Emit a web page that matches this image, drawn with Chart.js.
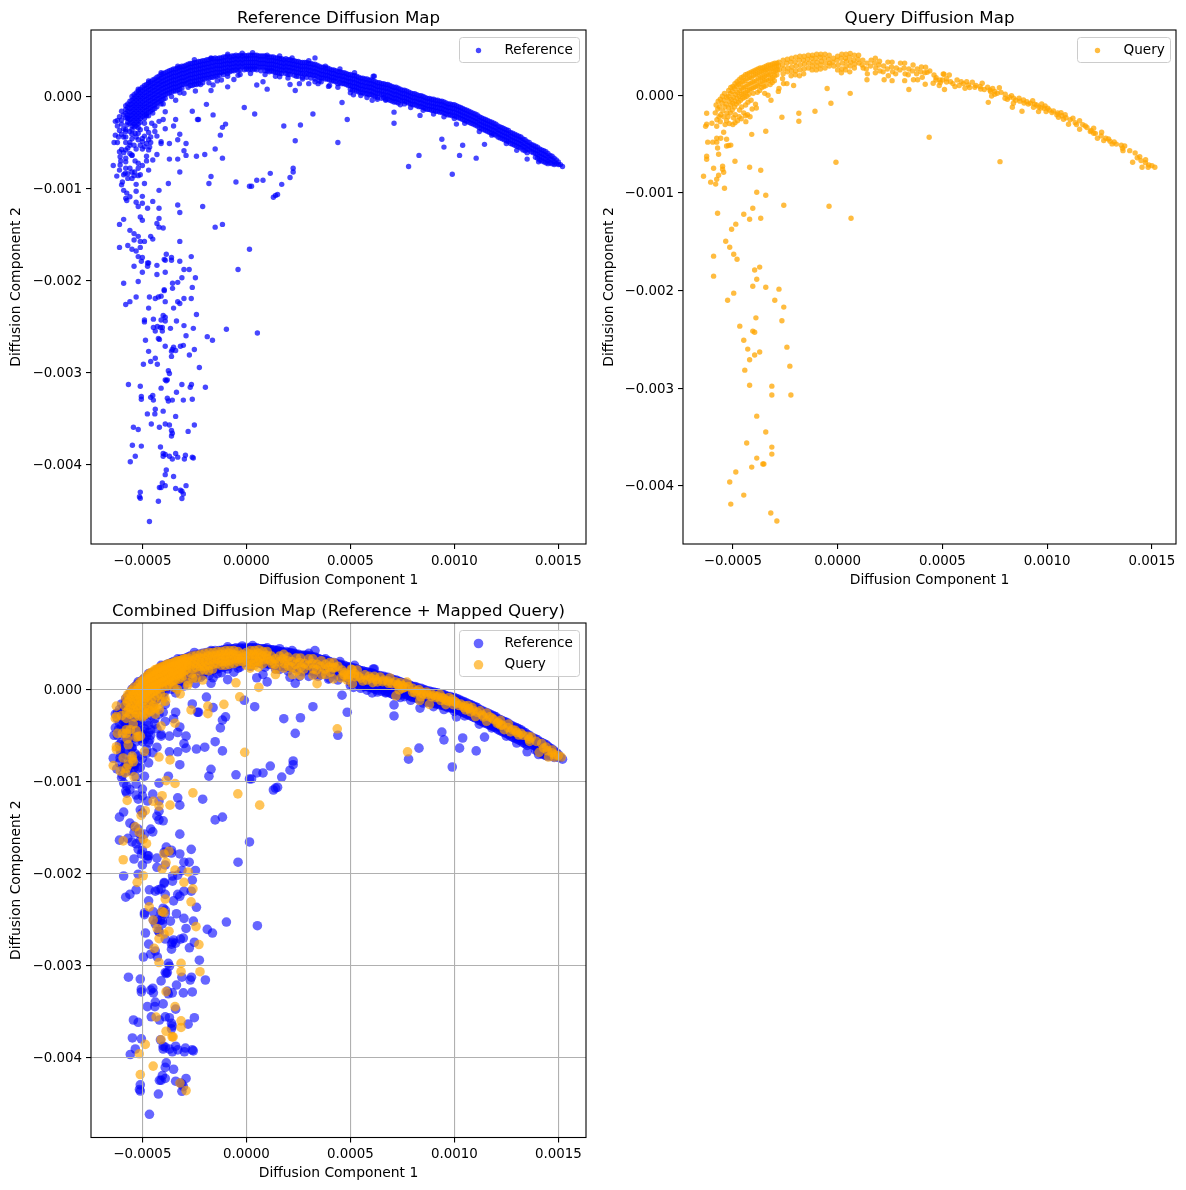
<!DOCTYPE html>
<html>
<head>
<meta charset="utf-8">
<title>Diffusion maps</title>
<script src="https://cdn.jsdelivr.net/npm/chart.js@4/dist/chart.umd.min.js"></script>
<style>
    html, body { margin: 0; padding: 0; background: #fff; }
    body { position: relative; width: 1186px; height: 1190px; overflow: hidden; }
    canvas { position: absolute; }
</style>
</head>
<body>
<canvas id="panelRef" width="593" height="592" style="left:0;top:0"></canvas>
<canvas id="panelQuery" width="593" height="592" style="left:593px;top:0"></canvas>
<canvas id="panelBoth" width="593" height="598" style="left:0;top:592px"></canvas>
<script>
// all coordinates below are in units of 1e-5
const unit = 1e-5;

const xTickValues = [-0.0005, 0, 0.0005, 0.001, 0.0015];
const xTickLabels = ['\u22120.0005', '0.0000', '0.0005', '0.0010', '0.0015'];
const yTickValues = [-0.004, -0.003, -0.002, -0.001, 0];
const yTickLabels = ['\u22120.004', '\u22120.003', '\u22120.002', '\u22120.001', '0.000'];

// dense arc of the reference cells: [x, [y, y, ...]]
const refArc = [
    [-58,[-10,-14,-18,-23]],[-56,[-5,-9,-13,-17,-21,-25,-29]],[-54,[2,-2,-6,-10,-14,-18,-22,-26,-30]],
    [-52,[6,2,-2,-6,-10,-14,-18,-22,-26,-30]],[-50,[10,6,2,-2,-6,-10,-14,-18,-22]],[-48,[13,9,5,1,-3,-7,-11,-15,-19]],
    [-46,[16,12,8,4,0,-4,-8,-12,-16]],[-44,[19,15,11,7,3,-1,-5,-9]],[-42,[22,18,14,10,6,2,-2,-6]],
    [-40,[25,21,17,13,9,5,1,-3]],[-38,[27,23,19,15,11,7,3]],[-36,[29,25,21,17,13,9,5]],
    [-34,[30,26,22,18,14,10,6]],[-32,[32,28,24,20,16,12,8]],[-30,[33,29,25,21,17,13]],
    [-28,[35,31,27,23,19,15]],[-26,[36,32,28,24,20,16,12]],[-24,[37,33,29,25,21,17,13]],
    [-22,[38,34,30,26,22,18]],[-20,[39,35,31,27,23,19]],[-18,[40,36,32,28,24,20]],
    [-16,[41,37,33,29,25,21]],[-14,[41,38,34,30,26,22]],[-12,[42,38,34,30,26]],
    [-10,[43,39,35,31,27]],[-8,[43,39,35,31,27]],[-6,[44,40,36,32,28]],
    [-4,[44,40,36,32,28]],[-2,[44,40,36,32]],[0,[44,41,37,33,30]],
    [2,[45,41,37,33,30]],[4,[45,41,37,33,30]],[6,[44,40,36,32]],
    [8,[44,40,36,32]],[10,[43,39,35,31,28]],[12,[43,39,35,31,28]],
    [14,[42,38,34,30,26]],[16,[41,37,33,29,25]],[18,[40,36,32,28]],
    [20,[40,36,32,28,24]],[22,[39,35,31,27]],[24,[38,34,30,26,22]],
    [26,[37,33,29,25]],[28,[37,33,29,24]],[30,[36,32,28,24]],
    [32,[35,31,27,23]],[34,[34,30,26,22]],[36,[32,28,24,20]],
    [38,[31,27,23,19]],[40,[30,26,22,18]],[42,[29,25,21,17]],
    [44,[27,23,19,14]],[46,[26,22,18,14]],[48,[25,21,17,13]],
    [50,[24,20,16,12,8]],[52,[23,19,15,11,7]],[54,[21,17,13,9,5]],
    [56,[20,16,12,8,4]],[58,[19,15,11,7,3]],[60,[18,14,10,6,2]],
    [62,[16,12,8,4,0]],[64,[15,11,7,3]],[66,[14,10,6,2,-1]],
    [68,[13,9,5,1,-3]],[70,[11,7,3,-1,-5]],[72,[10,6,2,-2,-6]],
    [74,[8,4,0,-4]],[76,[7,3,-1,-5,-8]],[78,[5,1,-3,-7]],
    [80,[3,-1,-5,-9]],[82,[2,-2,-6,-10]],[84,[1,-3,-7,-11]],
    [86,[-1,-5,-9,-13]],[88,[-2,-6,-10,-14]],[90,[-3,-7,-11,-15]],
    [92,[-4,-8,-12,-16]],[94,[-5,-9,-13,-17]],[96,[-7,-11,-15,-19]],
    [98,[-8,-12,-16,-20]],[100,[-9,-13,-17,-21,-24]],[102,[-11,-15,-19,-23]],
    [104,[-13,-17,-21,-25]],[106,[-15,-19,-23,-27]],[108,[-17,-21,-25,-29]],
    [110,[-19,-23,-27,-31]],[112,[-22,-26,-30,-34]],[114,[-24,-28,-32,-36]],
    [116,[-26,-30,-34,-38]],[118,[-28,-32,-36,-40]],[120,[-30,-34,-38,-42]],
    [122,[-33,-37,-41,-45]],[124,[-35,-39,-43,-47]],[126,[-37,-41,-45,-49]],
    [128,[-40,-44,-48,-52]],[130,[-42,-46,-50,-54]],[132,[-44,-48,-52,-56]],
    [134,[-47,-51,-55,-59]],[136,[-50,-54,-58]],[138,[-53,-57,-61]],
    [140,[-55,-59,-63,-67]],[142,[-58,-62,-66,-70]],[144,[-60,-64,-68,-72]],
    [146,[-64,-68,-72]],[148,[-67,-71,-74]],[150,[-71,-74]],[152,[-76]]
];

// same arc, the cells lying between those columns
const refArcBetween = [
    [-57,[-8,-12,-16,-20,-24,-28]],[-55,[0,-4,-8,-12,-16,-20,-24,-28,-32]],[-53,[4,0,-4,-8,-12,-16,-20,-24,-28,-32]],
    [-51,[8,4,0,-4,-8,-12,-16,-20,-24,-28]],[-49,[12,8,4,0,-4,-8,-12,-16,-20,-24]],[-47,[15,11,7,3,-1,-5,-9,-13,-17,-21]],
    [-45,[18,14,10,6,2,-2,-6,-10,-14,-18]],[-43,[21,17,13,9,5,1,-3,-7,-11]],[-41,[24,20,16,12,8,4,0,-4,-8]],
    [-39,[26,22,18,14,10,6,2,-2]],[-37,[28,24,20,16,12,8,4]],[-35,[30,26,22,18,14,10,6]],
    [-33,[31,27,23,19,15,11,7]],[-31,[33,29,25,21,17,13,9]],[-29,[34,30,26,22,18,14]],
    [-27,[36,32,28,24,20,16,12]],[-25,[37,33,29,25,21,17,13]],[-23,[38,34,30,26,22,18,14]],
    [-21,[39,35,31,27,23,19,15]],[-19,[40,36,32,28,24,20]],[-17,[41,37,33,29,25,21]],
    [-15,[42,38,34,30,26,22]],[-13,[42,38,34,30,26,23]],[-11,[43,39,35,31,27,24]],
    [-9,[44,40,36,32,28,25]],[-7,[44,40,36,32,28]],[-5,[45,41,37,33,29]],
    [-3,[45,41,37,33,29]],[-1,[45,41,37,33,29]],[1,[45,41,37,33,29]],
    [3,[45,41,37,33,29]],[5,[45,41,37,33,29]],[7,[44,40,36,32,28]],
    [9,[44,40,36,32,28]],[11,[43,39,35,31,27]],[13,[43,39,35,31,27]],
    [15,[42,38,34,30,26]],[17,[41,37,33,29,25]],[19,[41,37,33,29,25]],
    [21,[40,36,32,28,24]],[23,[39,35,31,27,23]],[25,[38,34,30,26,22]],
    [27,[37,33,29,25,21]],[29,[37,33,29,25,21]],[31,[36,32,28,24,20]],
    [33,[35,31,27,23,19]],[35,[33,29,25,21,17]],[37,[32,28,24,20]],
    [39,[31,27,23,19]],[41,[29,25,21,17]],[43,[28,24,20,16]],
    [45,[27,23,19,15]],[47,[26,22,18,14]],[49,[24,20,16,12]],
    [51,[23,19,15,11,7]],[53,[22,18,14,10,6]],[55,[20,16,12,8,4]],
    [57,[19,15,11,7,3]],[59,[18,14,10,6,2]],[61,[17,13,9,5,1]],
    [63,[15,11,7,3,-1]],[65,[14,10,6,2,-2]],[67,[13,9,5,1,-3]],
    [69,[12,8,4,0,-4]],[71,[10,6,2,-2,-6]],[73,[9,5,1,-3,-7]],
    [75,[7,3,-1,-5]],[77,[6,2,-2,-6]],[79,[4,0,-4,-8]],
    [81,[3,-1,-5,-9]],[83,[1,-3,-7,-11]],[85,[0,-4,-8,-12]],
    [87,[-2,-6,-10,-14]],[89,[-3,-7,-11,-15]],[91,[-4,-8,-12,-16]],
    [93,[-5,-9,-13,-17]],[95,[-6,-10,-14,-18]],[97,[-8,-12,-16,-20]],
    [99,[-9,-13,-17,-21]],[101,[-10,-14,-18,-22]],[103,[-12,-16,-20,-24]],
    [105,[-14,-18,-22,-26]],[107,[-16,-20,-24,-28]],[109,[-18,-22,-26,-30]],
    [111,[-20,-24,-28,-32]],[113,[-23,-27,-31,-35]],[115,[-25,-29,-33,-37]],
    [117,[-27,-31,-35,-39]],[119,[-29,-33,-37,-41]],[121,[-32,-36,-40,-44]],
    [123,[-34,-38,-42,-46]],[125,[-36,-40,-44,-48]],[127,[-39,-43,-47,-51]],
    [129,[-41,-45,-49,-53]],[131,[-43,-47,-51,-55]],[133,[-46,-50,-54,-58]],
    [135,[-49,-53,-57,-61]],[137,[-52,-56,-60]],[139,[-54,-58,-62,-66]],
    [141,[-57,-61,-65,-69]],[143,[-59,-63,-67,-71]],[145,[-62,-66,-70,-73]],
    [147,[-65,-69,-73]],[149,[-69,-73]],[151,[-74]]
];

// reference cells hugging the edges of the arc
const refFringe = [
    [-52,8],[-47,17],[-41,26],[-33,33],[-25,40],[-17,42],[-9,46],[-2,47],[3,47.5],[10,45],[16,44],[22,42],[30,39],[33,42],[38,33],[45,30],[52,26],[61,22],
    [-48,-21],[-44,-13],[-40,-8],[-36,0],[-32,4],[-28,10],[-22,13],[-18,15],[-14,17],[-9,22],[-3,24],[2,25],[9,24],[14,22],[20,20],[27,19],[33,16],[40,12],
    [44,10],[50,4],[55,1],[58,-1],[63,-3],[74,-9],[79,-12],[85,-15],[90,-19],[95,-22],[105,-29],[112,-38],[125,-51],
    [-58,-36],[-55,-36],[-52,-40],[-48,-35],[-47,-39],[-55,-46],[-52,-47],[-53,-44],[-47,-47],[-44,-38],[-43,-43],[-60,-41],[-58,-50],[-56,-53],[-53,-57],
    [-50,-57],[-47,-58],[-60,-30],[-58,-38],[-61,-22],[-62,-26],[-52,-34],[-55,-41],[-48,-51],[-59,-61],[-56,-62],[-61,-60],[-54,-86],[-52,-86],[-56,-78],
    [-58,-78],[-52,-78],[-57,-84],[-60,-96]
];

// reference cells away from the arc: [x, y]
const refLoose = [
    [-19.2,-8.5],[-26,-16],[-1,-12],[4,-19],[32,-19],[-16,-20],[-23.5,-25],[-23,-25],[-34,-25],[-40,-25],[18,-32],[26,-31],[-10,-30],[-11.5,-33.5],
    [-35,-32],[-39,-35],[-44,-32],[-12.5,-42],[23.5,-48],[-32,-41],[-33,-47],[-29,-51],[-37,-51],[-41,-49],[-41,-51],[44,-50],[-15,-57],[-30,-59],
    [-29,-64],[-24,-65],[-20,-63],[-11.5,-67],[-33,-68],[-37,-68],[-43,-63],[-48,-65],[-45,-69],[-48,-70],[-55,-64],[22.5,-78],[22.5,-82],[11.5,-83.5],
    [21,-88],[-17,-87],[-32,-82],[-47,-80],[-51,-85],[8,-91],[5,-91],[-5,-93],[-18,-94.5],[-37.5,-94.5],[-49,-94.5],[-53,-95.5],[17,-95.5],[1.5,-97.5],
    [2.5,-97.5],[-42,-102],[-53,-103],[-59,-102],[-50,-108.5],[15,-106.5],[14,-107.5],[13,-109.5],[-45,-114],[-53,-115],[-52,-119.5],[-50,-116],
    [-47.5,-121.5],[-42,-121.5],[-33,-118],[-32,-126],[-21,-119.5],[-51,-131],[-50,-134.5],[-42,-132.5],[-59,-133.5],[-61,-139],[-43,-138],[-42,-142],
    [-40,-143],[-11.5,-139],[-15,-142],[-56,-145.5],[-54,-149],[-52,-152],[-46,-152],[-45,-155],[-49,-157.5],[-54,-156],[-51,-157.5],[-32,-157.5],
    [-57,-162],[-61,-164],[-55,-166],[-51,-164],[1.5,-166],[-53,-168],[-38.5,-171.5],[-26.5,-174],[-52,-174],[-50,-175],[-39.5,-177],[-36,-175],[-36,-178],
    [-39,-178],[-32,-179],[-50.5,-179],[-47.5,-181],[-47,-181],[-47.5,-184.5],[-54,-184.5],[-43,-183.5],[-30,-188],[-27.5,-188],[-4,-188],[-50,-191],
    [-39,-191],[-43,-193.5],[-24.5,-197],[-31,-197],[-52,-201],[-59,-203],[-33,-202],[-35.5,-203],[-26,-207.5],[-39.5,-210],[-35.5,-208.5],
    [-63,-27],[-62,-32],[-61,-37],[-63,-42],[-61.5,-44],[-63.6,-50],[-62,-50],[-59,-44],[-60,-57.5],[-58,-58],[-57,-56],[-54,-53],[-51,-53],[-49,-54.5],
    [-46.5,-55],[-46,-50],[-49,-43],[-46,-44],[-50,-45.5],[-50,-49],[-56,-50],[-58,-44],[-56,-38],[-53.5,-40],[-59,-35],[-57.5,-31],[-60,-25.5],[-59,-20],
    [-60,-16],[-57,-23],[-54,-33],[-51,-36],[-49,-29],[-45.5,-29],[-42,-27],[-60.7,-65.5],[-60.4,-70],[-58,-67],[-58,-71],[-60.7,-74.5],[-64,-75],[-55,-63.5],
    [-53.5,-70],[-52,-72.5],[-50,-75],[-61,-80],[-62.3,-86.5],[-59,-85],[-57,-89],[-55,-82],[-53.7,-82],[-55,-89],[-59.6,-93],[-58.3,-83.5],[-58,-110.7],
    [-57.5,-105],[-56,-109],[-57.5,-113],[-16,12.5],[-17,6.5],[-24.5,6],[-30,3.5],[-34,-4],[-39,-16.5],[-12,18],[-9,10.5],[-6,18.5],[-4,23],[5,12.5],[8,16],
    [10,8],[21,13],[23.5,6.5],[25.5,14],[30,14],[34.5,14],[36,16],[39.5,11],[16,21.5],
    [46,-6.5],[48.5,-25],[51.5,2],[60.5,-4],[67,-4],[71,-17],[71,-29],[61.5,22],[83.5,-20.5],[101,-30],[94,-46.5],[95,-55],[104,-53],[114.5,-52],[102.5,-64],
    [83,-64],[78,-76],[99,-84.5],[110.5,-67],[130,-58.5],[135,-68],[118,-42],[140.5,-71],
    [-39.5,-211],[-53,-218],[-46.6,-218],[-43.8,-219.5],[-42.3,-218],[-41,-217],[-30,-219.5],[-26.5,-219.5],[-56,-223],[-58,-226],[-39,-223],[-33,-223],
    [-32,-225],[-47,-230],[-35,-230],[-24,-237],[-40,-238],[-39,-240],[-49,-243],[-49,-245],[-44.7,-242],[-41,-243],[-39,-244],[-33.6,-244],[-30,-249],
    [-44.7,-251],[-42.8,-250],[-41.3,-251],[-40.4,-251],[-36.5,-252],[-25.5,-252],[-9.6,-253],[5.3,-257],[-43.8,-255],[-40.4,-255],[-29,-260],[-18.8,-261],
    [-16.3,-265],[-48.5,-265],[-42.3,-263],[-41.8,-264],[-39,-271.5],[-31.7,-271.5],[-30.3,-270.5],[-35,-272.5],[-35.6,-275],[-34,-276],[-36,-277],[-25,-275],
    [-47,-277],[-27.4,-281],[-36,-282.5],[-43.8,-284.5],[-46,-288],[-49.5,-291],[-42.8,-291],[-22.6,-294.5],[-37.5,-298],[-37,-301],[-39,-308],[-38,-308],
    [-38.5,-309],[-56.7,-313],[-51,-315],[-31,-313],[-26.4,-313],[-27,-316],[-41,-317],[-19.7,-316],[-33.6,-321.5],[-50.5,-326],[-50.5,-329],[-45,-325],
    [-46,-327],[-44.7,-330],[-38,-328],[-37.5,-331],[-35.6,-330],[-30.3,-330],[-26,-329],[-43.8,-340],[-40,-342],[-47.6,-345],[-44,-345],[-34,-347.7],
    [-45.7,-356],[-54.3,-359.5],[-52,-362],[-41.8,-359.5],[-39,-356],[-37,-357],[-36,-363],[-25,-357],[-28,-364],[-35.6,-366],[-36,-369],[-54.8,-379],
    [-50.5,-380],[-41.3,-381],[-34,-388],[-40,-388],[-39,-389],[-29.3,-390],[-40,-391],[-37,-391],[-33,-392],[-26,-392],[-25.5,-393],[-53.4,-391],[-35.6,-394],
    [-29.8,-394],[-55.8,-397],[-38.5,-406],[-39,-411],[-35,-413],[-40.4,-420],[-29,-423],[-39,-423],[-41.8,-425],[-41,-425],[-34,-426],[-31.7,-428],[-31,-429],
    [-51,-430],[-30.3,-432],[-51.4,-435],[-51,-436.7],[-31,-437],[-42.3,-440],[-46.6,-462]
];

// query cells along the arc, left and top part
const queryArcLeft = [
    [-58,-10],[-58.4,-18],[-57.6,-25],[-57,-6],[-57.2,-14],[-56.6,-22],[-56,-4],[-56.3,-12],[-55.8,-20],[-56,-27],[-55,-1],[-55.2,-8],[-54.8,-16],
    [-54,2],[-54.2,-5],[-53.8,-12],[-54.3,-22],[-53.7,-30],[-53,-2],[-53.2,-9],[-52.8,-18],[-53,-26],[-52,5],[-52.2,-1],[-51.8,-6],[-52,-13],[-52.3,-22],[-51.7,-29],
    [-51,8],[-51.2,2],[-50.8,-4],[-51,-10],[-51.2,-18],[-50,9],[-50.2,4],[-49.8,-2],[-50,-8],[-50.3,-15],[-49.7,-23],[-50,-30],[-49,12],[-49.2,7],[-48.8,1],[-49,-6],[-49.2,-12],[-48.9,-20],[-49,-28],
    [-48,14],[-48.2,9],[-47.8,3],[-48,-3],[-48.3,-9],[-47.8,-26],[-47,16],[-47.2,11],[-46.8,5],[-47,-1],[-47.3,-7],[-46.8,-15],[-47,-22],[-46,18],[-46.2,12],[-45.8,7],[-46,1],[-46.3,-5],[-45.8,-12],[-46,-24],
    [-45,19],[-45.2,14],[-44.8,8],[-45,2],[-45.3,-3],[-44.8,-18],[-44,21],[-44.2,15],[-43.8,9],[-44,3],[-44.3,-2],[-43.9,-10],[-44,-21],[-43.8,-27],[-43,22],[-43.2,17],[-42.8,11],[-43,5],[-43.3,-1],[-42.8,-7],[-43,-20],
    [-42,23],[-42.2,18],[-41.8,12],[-42,6],[-42.3,1],[-41.8,-22],[-41,24],[-41.2,18],[-40.8,13],[-41,7],[-40.8,-14],[-41.3,-5],[-40,25],[-40.2,20],[-39.8,14],[-40,8],[-40.3,2],
    [-39,26],[-39.2,21],[-38.8,15],[-39,9],[-39.2,-9],[-38.8,-13],[-38,27],[-38.2,22],[-37.8,17],[-38,10],[-38.3,3],[-37,28],[-37.2,23],[-36.8,18],[-37,12],[-37.2,5],
    [-36,28],[-36.2,24],[-35.8,19],[-36,14],[-36.2,8],[-35,29],[-35.2,25],[-34.8,20],[-35,15],[-35.2,9],[-34.8,2],[-34,30],[-34.2,26],[-33.8,21],[-34,16],[-34.2,10],
    [-33,31],[-33.2,26],[-32.8,21],[-33,15],[-33.2,0],[-32,31],[-32.2,27],[-31.8,22],[-32,17],[-32.2,11],[-31.8,-5],[-31,32],[-31.2,28],[-30.8,24],[-31,18],[-31.2,13],
    [-30,33],[-30.2,29],[-29.8,25],[-30,20],[-30.2,15],[-29,33],[-29.2,30],[-28.8,26],[-29,21],[-28,34],[-28.2,30],[-27.8,26],[-28,7],[-28.3,4],
    [-26,36],[-26.3,31],[-25.8,27],[-26,22],[-26.3,17],[-25.8,12],[-24,37],[-24.3,33],[-23.8,28],[-24,24],[-24.2,12],[-22,38],[-22.3,34],[-21.8,29],[-22,25],[-22.2,20],
    [-20,39],[-20.3,34],[-19.8,30],[-20,25],[-20.2,21],[-18,40],[-18.3,36],[-17.8,31],[-18,26],[-18.2,20],[-16,40],[-16.3,36],[-15.8,32],[-16,27],[-16.2,22],
    [-14,41],[-14.3,37],[-13.8,33],[-14,28],[-12,41],[-12.3,38],[-11.8,34],[-12,30],[-12.2,26],[-10,42],[-10.3,38],[-9.8,34],[-10,30],[-10.2,26],
    [-8,42],[-8.3,39],[-7.8,35],[-8,31],[-8.2,27],[-6,42],[-6.3,38],[-5.8,33],[-6,28],[-4,41],[-4.3,37],[-3.8,33],[-4,30],[-2,38],[-2.3,34],[-1.8,30],
    [0,40],[-0.3,36],[0.2,31],[0,26],[2,42],[1.7,38],[2.2,33],[2,27],[1.8,23],[4,42],[3.7,38],[4.2,35],[4,30],[3.8,26],[6,43],[5.7,39],[6.2,34],[6,30],[5.8,24],
    [8,41],[7.7,36],[8.2,32],[8,28],[10,41],[9.7,37],[10.2,33],[12,36],[11.7,31],[12.2,28],[14,33],[13.7,27],[14.2,22],[14,16],[16,36],[15.7,30],
    [18,38],[17.7,33],[18.2,28],[18,23],[20,35],[19.7,31],[20.2,25],[22,30],[21.7,24],[22.2,16],[24,34],[23.7,27],[24.2,20],[26,34],[25.7,29],[26.2,24],[26,15],
    [28,28],[27.7,22],[30,33],[29.7,26],[32,33],[31.7,28],[32.2,22],[32,15],[34,27],[33.7,21],[36,31],[35.7,25],[36.2,16],[38,27],[37.7,22],[38.2,16],[40,29],[39.7,24]
];

// query cells along the arc, falling right part
const queryArcRight = [
    [42,28.7],[41.6,23.2],[42.7,23.5],[40.4,18.4],[41.8,11.3],[45.6,12.3],[48.5,10],[51,6],[46,20.8],[46.9,15.7],[48.8,15.7],[50.4,21.8],[50.8,21.5],[53.3,20.8],
    [50,15.7],[52,13.7],[53.9,14],[56,8.9],[57,15.7],[59,14],[60.8,7.2],[61.6,14],[62.4,10.6],[64.3,13.3],[65.5,8.2],[68.3,6.5],[69,12.3],[71.6,8.2],[72.7,5.5],
    [77.2,7.8],[76.2,2],[73.5,-0.7],[75,4],[79.9,-3],[83,-0.3],[81,-4],[83.9,-8.2],[83.4,-12.3],[86.6,-3],[88.7,-4.8],[90.3,-6.5],[93.1,-5.5],[93.5,-12.3],
    [95.9,-16.7],[95,-9.9],[97.4,-8.9],[98.6,-13.3],[100.3,-13.3],[99.5,-16.7],[102.3,-17.7],[104.6,-20],[106.6,-17.7],[105.4,-22.5],[108.6,-20],[107.8,-24.6],
    [110.2,-29.7],[112.3,-23.5],[113.4,-28],[115.5,-26],[115.5,-34.8],[118.2,-31.4],[120.6,-37.2],[122.2,-33.8],[122.2,-38.9],[124,-44],[126,-37.9],[125.8,-41.6],
    [127,-46.4],[129.3,-44.7],[131,-49.8],[132,-47.8],[135.4,-51.2],[136.2,-56.7],[136,-54.3],[139.4,-56.7],[144.2,-62.8],[144.8,-66.9],[145.3,-73.7],
    [146.9,-69],[148.5,-71.3],[148.2,-73.7],[151.4,-73.7],[140.8,-68.6],[71.9,-7.2],[88,-16.4],
    [44,25],[47,18],[49,13],[52,17],[55,12],[58,10],[60,12],[63,8],[66,10],[68,9],[70,6],[73,4],[74,7],[75,1],[78,3],[80,1],[82,-2],[84,-3],[85,-5],[87,-6],
    [89,-8],[91,-9],[92,-8],[94,-9],[96,-12],[97,-13],[99,-11],[101,-15],[103,-16],[105,-18],[107,-21],[109,-23],[111,-25],[114,-30],[117,-30],[119,-33],
    [121,-36],[123,-39],[128,-44],[130,-47],[133,-50],[137,-52],[142,-59],[143,-64],[147,-66],[150,-72]
];

// query cells away from the arc
const queryLoose = [
    [-62.5,-18.4],[-62.5,-29.7],[-63,-31.7],[-60,-28.7],[-57.7,-31.7],[-54.4,-37.9],[-41,-40],[-34.3,-36.9],[-62,-48],[-59.6,-48],[-57.7,-44],[-55.8,-44],[-53,-45],
    [-57.7,-48],[-57.3,-54],[-53,-52],[-52,-51.5],[-51,-51],[-56.8,-60.4],[-62.5,-62.5],[-62.5,-65.5],[-49,-67.6],[-54.9,-72.7],[-59.2,-74.7],[-54.9,-75.8],[-54.4,-78.8],
    [-42,-73.7],[-36.7,-76.8],[-56.8,-81.9],[-64,-83],[-57.7,-86],[-60.6,-89],[-58.2,-91],[-54,-95.2],[-38.6,-99.3],[-34.3,-102.4],[-0.8,-68.6],[43.7,-43],[-5,7],[6,2],
    [-3.2,-8.2],[-10.8,-16.4],[-18.5,-18.4],[-18.5,-26.6],[-26.6,-22.5],[-21,10],[-4.1,-113.7],[6.4,-126],[-25.7,-112.6],[-40.5,-115.7],[-57.3,-120.8],[-44.8,-121.8],
    [-42,-127],[-36.7,-126],[-48.6,-132],[-50.6,-137.2],[-53.4,-149.5],[-51.5,-155.6],[-49.6,-162.8],[-48,-167.9],[-59.2,-164.8],[-37.2,-176],[-39.6,-179],[-59.2,-185.3],
    [-38.6,-188.4],[-40.5,-195.6],[-34.3,-196.6],[-28,-198.6],[-49.6,-202.7],[-52.5,-209.9],[-30,-209.9],[-25.7,-217],[-39,-228],[-26.6,-231],[-46.7,-236.5],[-40.5,-241.6],
    [-39.6,-242.7],[-44.8,-250.9],[-24.2,-258],[-42.9,-260],[-37.2,-263],[-39.6,-266],[-42,-271],[-22.8,-277.5],[-44.3,-281.6],[-42,-297],[-31.4,-298],[-31.4,-307],[-22.3,-307],
    [-38.6,-328.7],[-34.3,-345],[-43.4,-356.3],[-31.4,-360.4],[-31.4,-367.6],[-38.6,-371.7],[-35.7,-377.8],[-35.2,-377.8],[-41,-380.9],[-48.6,-386],[-51.5,-396.2],[-44.8,-409.6],
    [-51,-418.8],[-31.9,-428],[-29,-436.2],[34,6],[77.5,-68]
];

const toPoint = p => ({ x: p[0] * unit, y: p[1] * unit });
const columnsToPairs = cols => cols.flatMap(c => c[1].map(y => [c[0], y]));
const refPoints = columnsToPairs(refArc).concat(columnsToPairs(refArcBetween), refFringe, refLoose).map(toPoint);
const queryPoints = queryArcLeft.concat(queryArcRight, queryLoose).map(toPoint);

const font = 'DejaVu Sans';

// axes frame and a matplotlib style legend box
const framePlugin = {
    id: 'frameAndLegend',
    afterDraw(chart, args, opts) {
        const ctx = chart.ctx, a = chart.chartArea;
        ctx.save();
        ctx.strokeStyle = '#000';
        ctx.lineWidth = 1.1;
        ctx.strokeRect(a.left, a.top, a.right - a.left, a.bottom - a.top);

        const b = opts.box;
        ctx.beginPath();
        ctx.roundRect(b[0], b[1], b[2], b[3], 3);
        ctx.fillStyle = 'rgba(255,255,255,0.8)';
        ctx.fill();
        ctx.strokeStyle = '#cccccc';
        ctx.lineWidth = 1;
        ctx.stroke();

        ctx.font = '13.6px "' + font + '"';
        ctx.textBaseline = 'middle';
        chart.data.datasets.forEach((ds, i) => {
            const y = b[1] + opts.firstRow + i * opts.rowGap;
            ctx.beginPath();
            ctx.arc(b[0] + opts.markerX, y, ds.pointRadius, 0, Math.PI * 2);
            ctx.fillStyle = ds.backgroundColor;
            ctx.fill();
            ctx.fillStyle = '#000';
            ctx.fillText(ds.label, b[0] + opts.textX, y);
        });
        ctx.restore();
    }
};

function makeAxis(title, limits, tickValues, tickLabels, size, withGrid, titlePad, labelOffset) {
    return {
        type: 'linear',
        min: limits[0],
        max: limits[1],
        border: { display: false },
        grid: {
            drawOnChartArea: withGrid,
            color: '#b0b0b0',
            lineWidth: 1.1,
            tickColor: '#000',
            tickLength: 5,
            z: withGrid ? 1 : 0
        },
        ticks: {
            autoSkip: false,
            maxRotation: 0,
            minRotation: 0,
            color: '#000',
            padding: 4,
            labelOffset: labelOffset,
            font: { family: font, size: 13.4 },
            callback: (v, i) => tickLabels[i]
        },
        title: {
            display: true,
            text: title,
            color: '#000',
            font: { family: font, size: 13.9 },
            padding: titlePad
        },
        afterBuildTicks: s => { s.ticks = tickValues.map(v => ({ value: v })); },
        afterFit: s => {
            if (s.isHorizontal()) s.height = size; else s.width = size;
        }
    };
}

function drawPanel(id, cfg) {
    new Chart(document.getElementById(id), {
        type: 'scatter',
        data: { datasets: cfg.datasets },
        plugins: [framePlugin],
        options: {
            responsive: false,
            animation: false,
            events: [],
            layout: { padding: { left: 0, top: 0, right: cfg.padRight, bottom: 0 } },
            plugins: {
                legend: { display: false },
                tooltip: { enabled: false },
                title: {
                    display: true,
                    fullSize: false,
                    text: cfg.title,
                    color: '#000',
                    font: { family: font, size: 16.67, weight: 'normal', lineHeight: 1 },
                    padding: { top: cfg.titleTop, bottom: cfg.axesTop - cfg.titleTop - 16.67 }
                },
                frameAndLegend: cfg.legend
            },
            scales: {
                x: makeAxis('Diffusion Component 1', cfg.xLimits, xTickValues, xTickLabels, cfg.xHeight, cfg.grid, { top: 0, bottom: cfg.xLabelPad }, 0),
                y: makeAxis('Diffusion Component 2', cfg.yLimits, yTickValues, yTickLabels, cfg.yWidth, cfg.grid, { top: 8, bottom: 0 }, 1)
            }
        }
    });
}

const refSmall = { label: 'Reference', data: refPoints, backgroundColor: 'rgba(0,0,255,0.72)', pointRadius: 2.7, pointBorderWidth: 0 };
const querySmall = { label: 'Query', data: queryPoints, backgroundColor: 'rgba(255,165,0,0.75)', pointRadius: 2.7, pointBorderWidth: 0 };

drawPanel('panelRef', {
    title: 'Reference Diffusion Map',
    datasets: [refSmall],
    xLimits: [-74.7 * unit, 163.3 * unit],
    yLimits: [-486.4 * unit, 72.3 * unit],
    axesTop: 30, titleTop: 10, xHeight: 48, yWidth: 91, padRight: 7, xLabelPad: 3, grid: false,
    legend: { box: [459.5, 37.5, 120, 25], firstRow: 13, rowGap: 21, markerX: 19, textX: 45 }
});

drawPanel('panelQuery', {
    title: 'Query Diffusion Map',
    datasets: [querySmall],
    xLimits: [-73.8 * unit, 161.5 * unit],
    yLimits: [-459.7 * unit, 66.9 * unit],
    axesTop: 30, titleTop: 10, xHeight: 48, yWidth: 90, padRight: 10, xLabelPad: 3, grid: false,
    legend: { box: [484.5, 37.5, 93, 25], firstRow: 13, rowGap: 21, markerX: 20, textX: 46 }
});

drawPanel('panelBoth', {
    title: 'Combined Diffusion Map (Reference + Mapped Query)',
    datasets: [
        { label: 'Reference', data: refPoints, backgroundColor: 'rgba(0,0,255,0.6)', pointRadius: 4.8, pointBorderWidth: 0, order: 2 },
        { label: 'Query', data: queryPoints, backgroundColor: 'rgba(255,165,0,0.65)', pointRadius: 4.8, pointBorderWidth: 0, order: 1 }
    ],
    xLimits: [-74.7 * unit, 163.3 * unit],
    yLimits: [-487.2 * unit, 72 * unit],
    axesTop: 31, titleTop: 11, xHeight: 52.5, yWidth: 91, padRight: 7, xLabelPad: 8, grid: true,
    legend: { box: [459.5, 38.5, 120, 46], firstRow: 13, rowGap: 21.3, markerX: 19, textX: 45 }
});
</script>
</body>
</html>
